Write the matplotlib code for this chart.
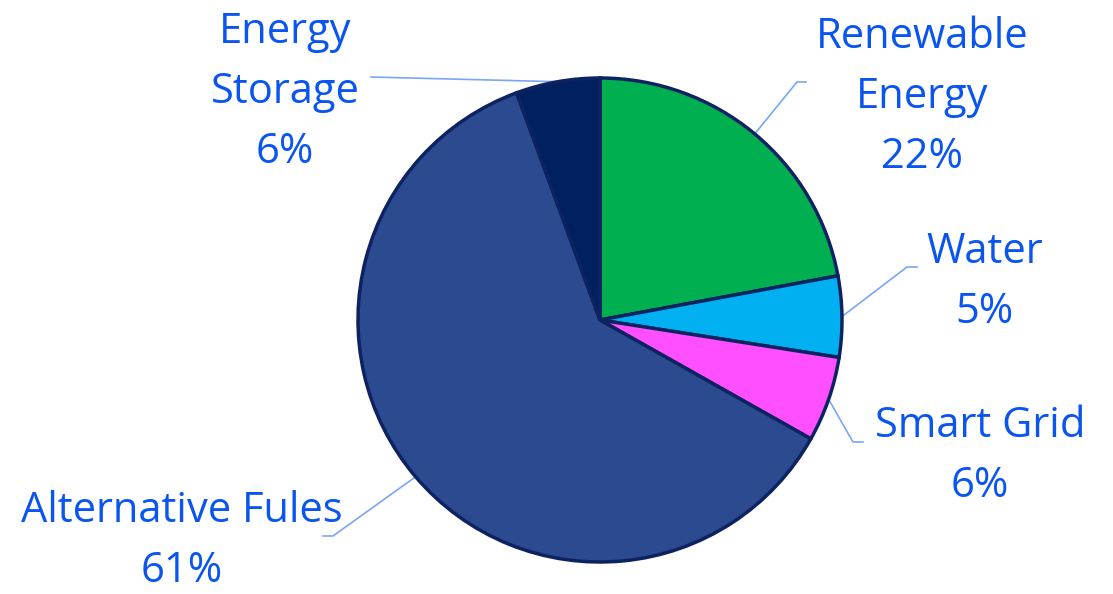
import numpy as np
import matplotlib
matplotlib.use("Agg")
import matplotlib.pyplot as plt

# ---- data ----
categories = ["Renewable\nEnergy", "Water", "Smart Grid", "Alternative Fules", "Energy\nStorage"]
values = [22.1, 5.4, 5.7, 61.3, 5.6]
pct_labels = ["22%", "5%", "6%", "61%", "6%"]
colors = ["#00B050", "#00B0F0", "#FF4FFF", "#2B4A8F", "#002060"]
explode = [0, 0, 0, 0.014, 0]

W, H = 1113, 594
fig = plt.figure(figsize=(W / 100, H / 100), dpi=100)
ax = fig.add_axes([0, 0, 1, 1])

cx, cy, R = 600, H - 320, 242
wedges, _ = ax.pie(values, colors=colors, startangle=90, counterclock=False,
                   center=(cx, cy), radius=R, explode=explode,
                   wedgeprops=dict(edgecolor="#0D2260", linewidth=2.5),
                   frame=True)
ax.set_xlim(0, W)
ax.set_ylim(0, H)
ax.set_aspect("equal")
ax.axis("off")

txt_color = "#0A55F0"
line_color = "#7AA6F5"
font = "Open Sans"
fs = 30

# label layout (pixel positions, image coordinates)
label_pos = [(922, 97), (985, 282), (980, 456), (182, 541), (285, 92)]
elbows = [((797, 82), (806, 82)), ((907, 267), (917, 267)), ((853, 442), (863, 442)),
          ((333, 536), (323, 536)), ((371, 77), (371, 77))]

for w, cat, pct, (lx, ly), (e1, e2) in zip(wedges, categories, pct_labels, label_pos, elbows):
    mid = np.deg2rad((w.theta1 + w.theta2) / 2)
    wx, wy = w.center
    sx = wx + w.r * np.cos(mid)
    sy = wy + w.r * np.sin(mid)
    xs = [sx, e1[0], e2[0]]
    ys = [sy, H - e1[1], H - e2[1]]
    ax.plot(xs, ys, color=line_color, lw=1.2, zorder=0.5)
    ax.text(lx, H - ly, cat + "\n" + pct, ha="center", va="center", color=txt_color,
            fontsize=fs, family=font, linespacing=1.55)

fig.savefig("out.png", dpi=100)
